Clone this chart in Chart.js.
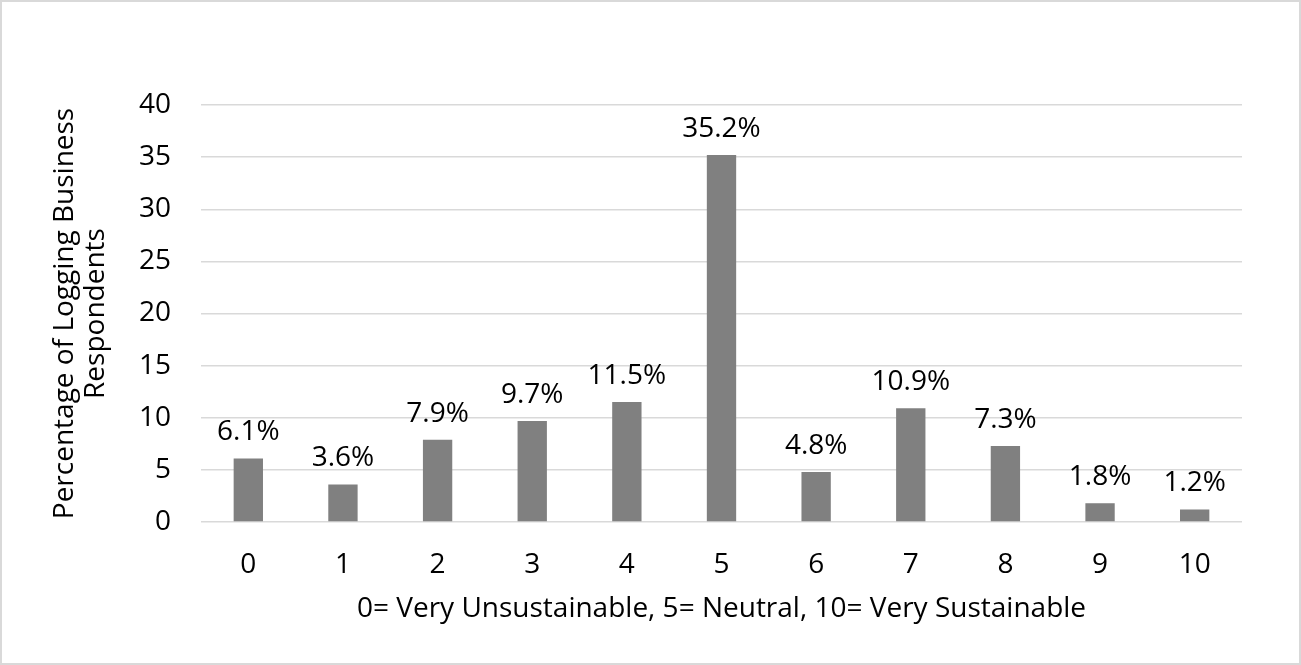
<!DOCTYPE html>
<html>
<head>
<meta charset="utf-8">
<script src="https://cdn.jsdelivr.net/npm/chart.js@4/dist/chart.umd.min.js"></script>
<style>
  html, body { margin: 0; padding: 0; background: #fff; }
  #wrap { width: 1301px; height: 665px; position: relative; }
</style>
</head>
<body>
<div id="wrap"><canvas id="c" width="1301" height="665"></canvas></div>
<script>
// Sustainability rating scale (0-10) and share of respondents per rating
const categories = ['0', '1', '2', '3', '4', '5', '6', '7', '8', '9', '10'];
const percentages = [6.1, 3.6, 7.9, 9.7, 11.5, 35.2, 4.8, 10.9, 7.3, 1.8, 1.2];
const yTicks = [0, 5, 10, 15, 20, 25, 30, 35, 40];
const yTitle = ['Percentage of Logging Business', 'Respondents'];
const xTitle = '0= Very Unsustainable, 5= Neutral, 10= Very Sustainable';

const FONT = '"Open Sans", sans-serif';
const SIZE = 28;
const TEXT = '#000000';

// Outer frame around the chart
const framePlugin = {
  id: 'frame',
  beforeDraw(chart) {
    const ctx = chart.ctx;
    ctx.save();
    ctx.fillStyle = '#ffffff';
    ctx.fillRect(0, 0, chart.width, chart.height);
    ctx.strokeStyle = '#d9d9d9';
    ctx.lineWidth = 2;
    ctx.strokeRect(1, 1, chart.width - 2, chart.height - 2);
    ctx.restore();
  }
};

// Percentage labels above each bar
const valueLabels = {
  id: 'valueLabels',
  afterDatasetsDraw(chart) {
    const ctx = chart.ctx;
    const meta = chart.getDatasetMeta(0);
    const data = chart.data.datasets[0].data;
    ctx.save();
    ctx.font = SIZE + 'px ' + FONT;
    ctx.fillStyle = TEXT;
    ctx.textAlign = 'center';
    ctx.textBaseline = 'middle';
    meta.data.forEach((bar, i) => {
      ctx.fillText(data[i].toFixed(1) + '%', bar.x, bar.y - 26);
    });
    ctx.restore();
  }
};

new Chart(document.getElementById('c'), {
  type: 'bar',
  data: {
    labels: categories,
    datasets: [{
      data: percentages,
      backgroundColor: '#808080',
      borderWidth: 0,
      barPercentage: 0.62,
      categoryPercentage: 0.5
    }]
  },
  plugins: [framePlugin, valueLabels],
  options: {
    responsive: false,
    animation: false,
    devicePixelRatio: 1,
    layout: { padding: { left: 0, right: 59, top: 105, bottom: 0 } },
    plugins: {
      legend: { display: false },
      tooltip: { enabled: false }
    },
    scales: {
      x: {
        grid: { display: false, drawTicks: false },
        border: { display: false },
        ticks: { color: TEXT, font: { family: FONT, size: SIZE }, padding: 26, maxRotation: 0 },
        title: {
          display: true,
          text: xTitle,
          color: TEXT,
          font: { family: FONT, size: SIZE, lineHeight: 1.2 },
          padding: { top: 0, bottom: 39 }
        },
        afterFit(scale) { scale.height = 143; }
      },
      y: {
        min: 0,
        max: 40,
        afterBuildTicks(scale) { scale.ticks = yTicks.map(v => ({ value: v })); },
        grid: { color: '#d9d9d9', lineWidth: 1.5, drawTicks: false },
        border: { display: false },
        ticks: { color: TEXT, font: { family: FONT, size: SIZE }, padding: 30 },
        title: {
          display: true,
          text: yTitle,
          color: TEXT,
          font: { family: FONT, size: SIZE, lineHeight: 1.1 },
          padding: { top: 50, bottom: 0 }
        },
        afterFit(scale) { scale.width = 201; }
      }
    }
  }
});
</script>
</body>
</html>
